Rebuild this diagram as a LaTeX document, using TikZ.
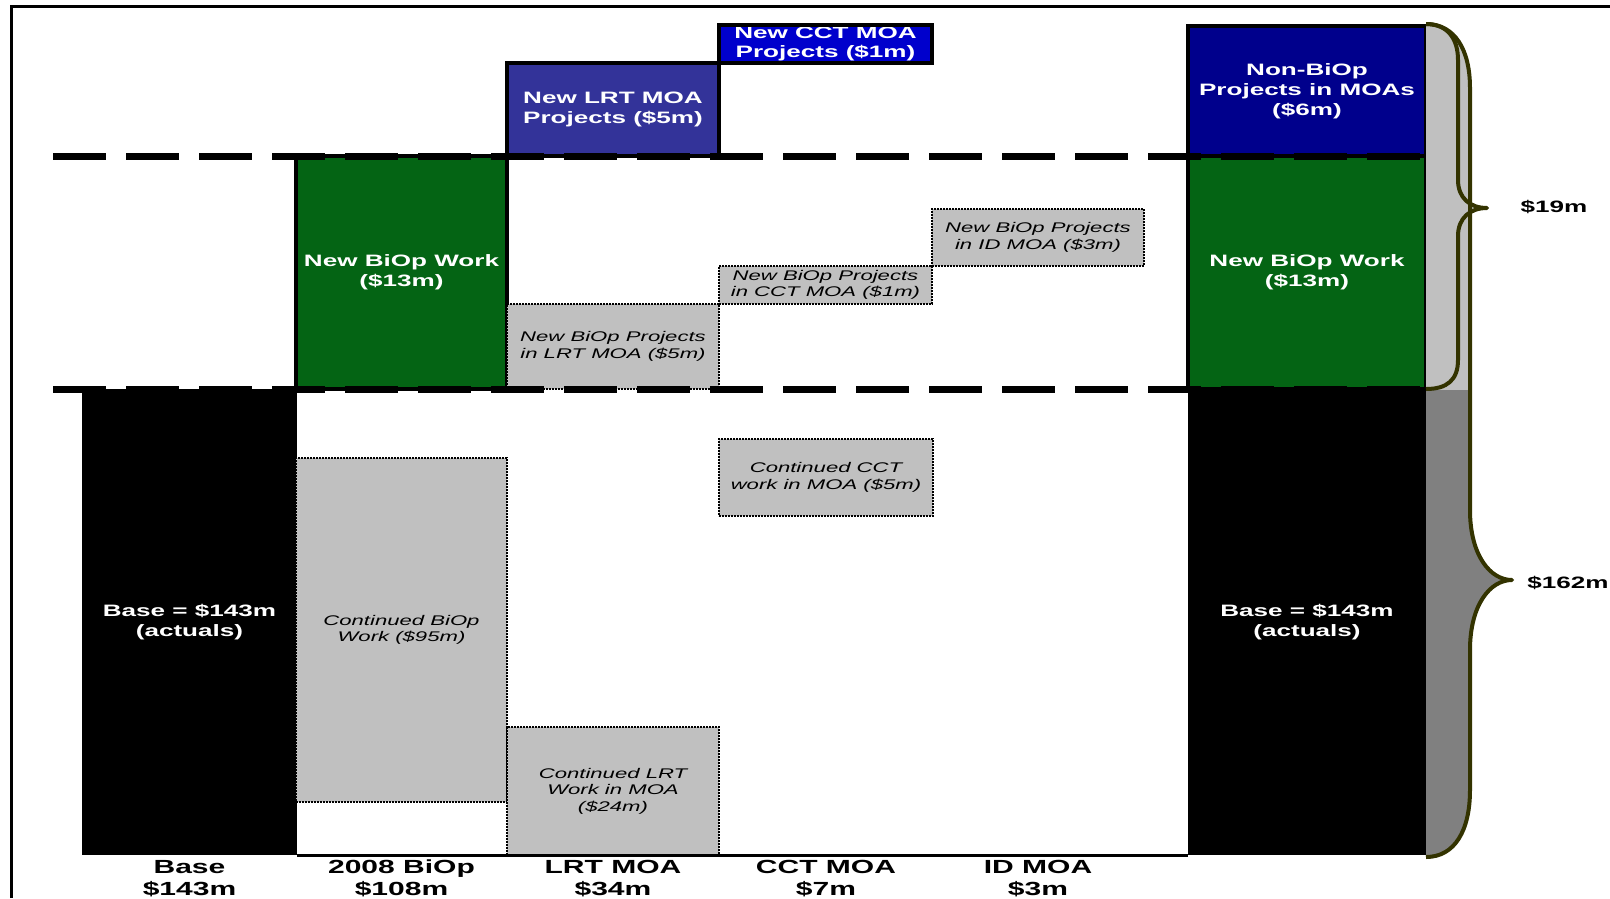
\documentclass[tikz,border=0pt]{standalone}
\usepackage{fontspec}
\setmainfont{Liberation Sans}[FakeStretch=1.58]
\usepackage{tikz}
\usetikzlibrary{positioning}
\definecolor{biopgreen}{RGB}{4,100,20}
\definecolor{lrtblue}{RGB}{51,51,153}
\definecolor{cctblue}{RGB}{0,0,204}
\definecolor{nonbiopblue}{RGB}{0,0,140}
\definecolor{lightbar}{RGB}{192,192,192}
\definecolor{darkbar}{RGB}{128,128,128}
\definecolor{bracecol}{RGB}{51,51,0}

\begin{document}
\begin{tikzpicture}[x=1pt, y=-1pt, every node/.style={inner sep=0pt, outer sep=0pt, align=center},
    projbox/.style={draw=black, line width=3.5pt, text=white, font=\fontsize{16.5}{20}\selectfont\bfseries},
    newwork/.style={projbox, fill=biopgreen},
    basebar/.style={fill=black, text=white, font=\fontsize{16.5}{20}\selectfont\bfseries},
    greybox/.style={draw=black, fill=lightbar, line width=2pt, dash pattern=on 2pt off 1pt, font=\fontsize{14}{16.5}\selectfont\itshape},
    axislabel/.style={font=\fontsize{19}{22}\selectfont\bfseries},
    sumlabel/.style={font=\fontsize{16.5}{20}\selectfont\bfseries},
    levelline/.style={line width=7pt, dash pattern=on 53pt off 20pt},
    braceline/.style={draw=bracecol, line width=4pt, line join=round}]
    \useasboundingbox (0,0) rectangle (1610,898);
    % frame
    \draw[line width=3pt] (11,898) -- (11,6) -- (1610,6);
    % base column
    \node[basebar, minimum width=215pt, minimum height=466pt, anchor=north west] (base) at (82,389) {Base = \$143m\\(actuals)};
    % 2008 BiOp column
    \node[newwork, minimum width=211pt, minimum height=233pt, anchor=north west] (biopnew) at (296,156) {New BiOp Work\\(\$13m)};
    \node[greybox, minimum width=211pt, minimum height=344pt, anchor=north west] (biopcont) at (296,458) {Continued BiOp\\Work (\$95m)};
    % LRT column
    \node[projbox, fill=lrtblue, minimum width=212pt, minimum height=93pt, anchor=south west] (lrtproj) at (biopnew.north east) {New LRT MOA\\Projects (\$5m)};
    \node[greybox, minimum width=212pt, minimum height=85pt, anchor=south west] (lrtnew) at (biopnew.south east) {New BiOp Projects\\in LRT MOA (\$5m)};
    \node[greybox, minimum width=212pt, minimum height=128pt, anchor=south west] (lrtcont) at (507,855) {Continued LRT\\Work in MOA\\(\$24m)};
    % CCT column
    \node[fill=cctblue, text=white, font=\fontsize{16.5}{19}\selectfont\bfseries, minimum width=213pt, minimum height=38pt, anchor=south west] (cctproj) at (lrtproj.north east) {New CCT MOA\\Projects (\$1m)};
    \draw[line width=3.5pt] (cctproj.south west) rectangle (cctproj.north east);
    \node[greybox, minimum width=213pt, minimum height=38pt, anchor=south west] (cctnew) at (lrtnew.north east) {New BiOp Projects\\in CCT MOA (\$1m)};
    \node[greybox, minimum width=214pt, minimum height=77pt, anchor=north west] (cctcont) at (719,439) {Continued CCT\\work in MOA (\$5m)};
    % ID column
    \node[greybox, minimum width=212pt, minimum height=57pt, anchor=south west] (idnew) at (cctnew.north east) {New BiOp Projects\\in ID MOA (\$3m)};
    % total column
    \node[projbox, fill=nonbiopblue, minimum width=238pt, minimum height=130pt, anchor=north west] (nonbiop) at (1188,26) {Non-BiOp\\Projects in MOAs\\(\$6m)};
    \node[newwork, minimum width=238pt, minimum height=233pt, below=0pt of nonbiop] (totalnew) {New BiOp Work\\(\$13m)};
    \node[basebar, minimum width=238pt, minimum height=466pt, below=0pt of totalnew] (totalbase) {Base = \$143m\\(actuals)};
    % levels and axis
    \coordinate (upstart) at (53,156);
    \coordinate (lowstart) at (53,389);
    \draw[levelline] (upstart) -- (totalnew.north east);
    \draw[levelline] (lowstart) -- (totalnew.south east);
    \draw[line width=3pt] (base.south east) -- (totalbase.south west);
    \node[axislabel, below=5pt of base] (baselab) {Base\\\$143m};
    \node[axislabel, below=5pt of biopcont.south |- base.south] (bioplab) {2008 BiOp\\\$108m};
    \node[axislabel, below=5pt of lrtcont] (lrtlab) {LRT MOA\\\$34m};
    \node[axislabel, below=5pt of cctcont.south |- base.south] (cctlab) {CCT MOA\\\$7m};
    \node[axislabel, below=5pt of idnew.south |- base.south] (idlab) {ID MOA\\\$3m};
    % braces
    \fill[darkbar] (1426,24) .. controls (1455,24) and (1470,50) .. (1470,88) -- (1470,510) .. controls (1470,555) and (1490,580) .. (1512,580) .. controls (1490,580) and (1470,605) .. (1470,650) -- (1470,790) .. controls (1470,830) and (1455,857) .. (1426,857) -- cycle;
    \begin{scope}
        \clip (1420,0) rectangle (1530,389);
        \fill[lightbar] (1426,24) .. controls (1455,24) and (1470,50) .. (1470,88) -- (1470,510) -- (1426,510) -- cycle;
    \end{scope}
    \fill[lightbar] (1426,24) .. controls (1447,24) and (1458,38) .. (1458,60) -- (1458,180) .. controls (1458,198) and (1470,208) .. (1487,208) .. controls (1470,208) and (1458,218) .. (1458,236) -- (1458,360) .. controls (1458,380) and (1447,389) .. (1426,389) -- cycle;
    \draw[braceline] (1426,24) .. controls (1455,24) and (1470,50) .. (1470,88) -- (1470,510) .. controls (1470,555) and (1490,580) .. (1512,580) .. controls (1490,580) and (1470,605) .. (1470,650) -- (1470,790) .. controls (1470,830) and (1455,857) .. (1426,857);
    \draw[braceline] (1426,24) .. controls (1447,24) and (1458,38) .. (1458,60) -- (1458,180) .. controls (1458,198) and (1470,208) .. (1487,208) .. controls (1470,208) and (1458,218) .. (1458,236) -- (1458,360) .. controls (1458,380) and (1447,389) .. (1426,389);
    \node[sumlabel] (smallsum) at (1554,207) {\$19m};
    \node[sumlabel] (bigsum) at (1568,583) {\$162m};
\end{tikzpicture}
\end{document}
